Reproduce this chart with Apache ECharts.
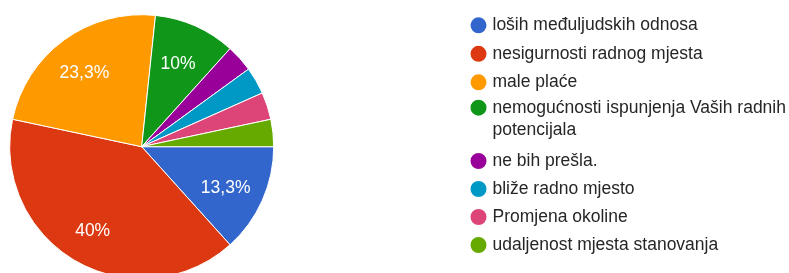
<!DOCTYPE html>
<html><head><meta charset="utf-8">
<script src="https://cdn.jsdelivr.net/npm/echarts@6/dist/echarts.min.js"></script>
<style>html,body{margin:0;padding:0;background:#fff}#c{width:789px;height:273px}</style>
</head><body><div id="c"></div>
<script>
const categories = [
  'loših međuljudskih odnosa',
  'nesigurnosti radnog mjesta',
  'male plaće',
  'nemogućnosti ispunjenja Vaših radnih potencijala',
  'ne bih prešla.',
  'bliže radno mjesto',
  'Promjena okoline',
  'udaljenost mjesta stanovanja'
];
const values = [4, 12, 7, 3, 1, 1, 1, 1];
const percentLabels = ['13,3%', '40%', '23,3%', '10%', '', '', '', ''];
const colors = ['#3366cc', '#dc3912', '#ff9900', '#109618', '#990099', '#0099c6', '#dd4477', '#66aa00'];

const chart = echarts.init(document.getElementById('c'));
const data = categories.map((n, i) => ({ name: n, value: values[i], itemStyle: { color: colors[i] } }));
const labelData = categories.map((n, i) => ({ name: n, value: values[i], label: { formatter: percentLabels[i] } }));
const FONT = '"Liberation Sans", Arial, sans-serif';
const legendText = { color: '#262626', fontSize: 17.5, fontFamily: FONT, lineHeight: 20 };
const legendBase = { orient: 'vertical', left: 468.5, padding: 0, itemWidth: 18, itemHeight: 18, icon: 'circle', selectedMode: false };
const cx = 141.7, cy = 146.7, R = 132;
chart.setOption({
  animation: false,
  legend: [
    Object.assign({}, legendBase, { top: 15.3, itemGap: 8.5, data: categories.slice(0, 3), textStyle: legendText }),
    Object.assign({}, legendBase, { top: 73.8, data: [categories[3]],
      formatter: () => '\nnemogućnosti ispunjenja Vaših radnih\npotencijala',
      textStyle: Object.assign({}, legendText, { lineHeight: 22.6 }) }),
    Object.assign({}, legendBase, { top: 151, itemGap: 8, data: categories.slice(4), textStyle: legendText })
  ],
  series: [
    { type: 'pie', center: [cx, cy], radius: [0, R], startAngle: 0, clockwise: true, silent: true,
      data: data, label: { show: false }, labelLine: { show: false },
      itemStyle: { borderColor: '#fff', borderWidth: 1 } },
    { type: 'pie', center: [cx, cy], radius: [R * 0.38, R], startAngle: 0, clockwise: true, silent: true,
      legendHoverLink: false, data: labelData,
      itemStyle: { color: 'rgba(0,0,0,0)' },
      label: { show: true, position: 'inside', color: '#fff', fontSize: 17.5, fontFamily: FONT, offset: [-2, 3] },
      labelLine: { show: false } }
  ]
});
</script></body></html>
